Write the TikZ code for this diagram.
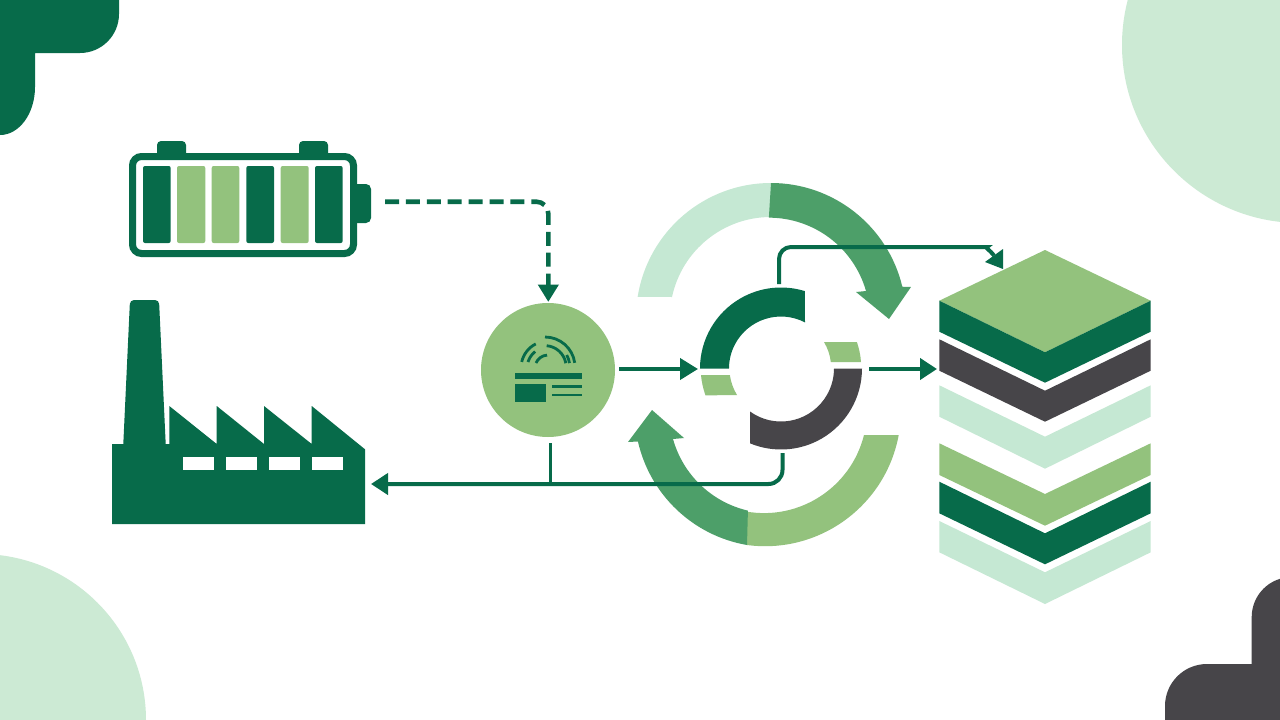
\documentclass[tikz,border=0pt]{standalone}
\usetikzlibrary{arrows.meta}
\definecolor{deepgreen}{HTML}{076B4A}
\definecolor{leaf}{HTML}{93C27D}
\definecolor{mint}{HTML}{C5E8D3}
\definecolor{softmint}{HTML}{CCEAD4}
\definecolor{flowgreen}{HTML}{4D9F69}
\definecolor{charcoal}{HTML}{474549}
\tikzset{
  link/.style={draw=deepgreen,line width=4pt},
  cell/.style={rounded corners=2pt},
  iconstroke/.style={draw=deepgreen,line width=2.8pt},
  hubdisc/.style={circle,fill=leaf,minimum size=134pt,inner sep=0pt,outer sep=0pt},
  batterycase/.style={draw=deepgreen,line width=7pt,fill=white,rounded corners=9pt,
    minimum width=221pt,minimum height=97pt,inner sep=0pt,outer sep=0pt}
}
\begin{document}
\begin{tikzpicture}[x=1pt,y=-1pt]
\useasboundingbox (0,0) rectangle (1280,720);
\fill[white] (0,0) rectangle (1280,720);

% corner decorations
\fill[softmint] (1300,45) circle[radius=178];
\fill[softmint] (-20,720) circle[radius=166];
\fill[deepgreen] (0,0) -- (119,0) -- (119,14) arc[start angle=0,end angle=90,radius=39]
  -- (35,53) -- (35,87) arc[start angle=0,end angle=90,x radius=35,y radius=48] -- cycle;
\fill[charcoal] (1280,720) -- (1280,578.8) arc[start angle=253,end angle=180,radius=40]
  -- (1251.7,664) -- (1207,664) arc[start angle=270,end angle=180,radius=42] -- (1165,720) -- cycle;

% battery
\fill[deepgreen,rounded corners=4pt] (157,141) rectangle (186,160);
\fill[deepgreen,rounded corners=4pt] (299,141) rectangle (328,160);
\fill[deepgreen,rounded corners=5pt] (350,184) rectangle (371,223);
\node[batterycase] (battery) at (243,205) {};
\fill[deepgreen,cell] (143,166) rectangle (170.7,243);
\fill[leaf,cell] (177,166) rectangle (205.3,243);
\fill[leaf,cell] (211.7,166) rectangle (239.3,243);
\fill[deepgreen,cell] (246.3,166) rectangle (274,243);
\fill[leaf,cell] (280.7,166) rectangle (308.7,243);
\fill[deepgreen,cell] (315,166) rectangle (342.7,243);

% factory silhouette
\fill[deepgreen] (112,524) -- (112,444) -- (123.3,444)
  [rounded corners=4pt] -- (130,300) -- (159,300) [sharp corners] -- (165.7,444)
  -- (169.3,444) -- (169.3,406) -- (216.7,444) -- (216.7,406) -- (264,444)
  -- (264,406) -- (311.7,444) -- (311.7,406) -- (365,449.3) -- (365,524) -- cycle;
\fill[white] (183,456.7) rectangle (213.7,470);
\fill[white] (226.3,456.7) rectangle (256.7,470);
\fill[white] (269.3,456.7) rectangle (300,470);
\fill[white] (312.3,456.7) rectangle (342.7,470);

% large recycling arcs
\fill[mint] (771,183) arc[start angle=270,end angle=189,radius=135]
  -- (672,297) arc[start angle=192,end angle=270,radius=101] -- cycle;
\fill[flowgreen] (771,183) arc[start angle=270,end angle=346.6,radius=135]
  -- (911,287) -- (889,319) -- (856,292) -- (866,291)
  arc[start angle=344.1,end angle=270,radius=101] -- cycle;
\fill[leaf] (747,545) arc[start angle=97.6,end angle=10.6,radius=136]
  -- (864,435) arc[start angle=14,end angle=100,radius=103] -- cycle;
\fill[flowgreen] (747,545) arc[start angle=99.8,end angle=167.2,radius=135.5]
  -- (628,442) -- (652,410) -- (684,438) -- (673,439)
  arc[start angle=164.4,end angle=103,radius=101.5] -- cycle;

% inner ring
\fill[deepgreen] (700,368.5) arc[start angle=180,end angle=287.1,radius=81]
  -- (805,322.4) arc[start angle=297.5,end angle=180,radius=52] -- cycle;
\fill[charcoal] (862,368.5) arc[start angle=0,end angle=112.5,radius=81]
  -- (750,411.5) arc[start angle=125.8,end angle=0,radius=53] -- cycle;
\fill[leaf] (861,362) arc[start angle=-4.3,end angle=-18.9,radius=80.2]
  -- (824,342) arc[start angle=-31,end angle=-6.7,radius=50.2] -- cycle;
\fill[leaf] (701,375) arc[start angle=175,end angle=160,radius=80]
  -- (737,395) arc[start angle=148.5,end angle=172,radius=51.6] -- cycle;

% layered stack
\fill[leaf] (1045,250) -- (1150.7,300.7) -- (1045,352.3) -- (939.3,300.7) -- cycle;
\fill[deepgreen] (939.3,300.7) -- (1045,352.3) -- (1150.7,300.7) -- (1150.7,331.7) -- (1045,382.7) -- (939.3,331.7) -- cycle;
\fill[charcoal] (939.3,339.3) -- (1045,390.7) -- (1150.7,339.3) -- (1150.7,370.7) -- (1045,421.7) -- (939.3,370.7) -- cycle;
\fill[mint] (939.3,385.3) -- (1045,436.7) -- (1150.7,385.3) -- (1150.7,416.7) -- (1045,468.7) -- (939.3,416.7) -- cycle;
\fill[leaf] (939.3,443.3) -- (1045,494) -- (1150.7,443.3) -- (1150.7,475) -- (1045,525.7) -- (939.3,475) -- cycle;
\fill[deepgreen] (939.3,481.7) -- (1045,533.3) -- (1150.7,481.7) -- (1150.7,513.3) -- (1045,564.3) -- (939.3,513.3) -- cycle;
\fill[mint] (939.3,521) -- (1045,572.3) -- (1150.7,521) -- (1150.7,552.3) -- (1045,604) -- (939.3,552.3) -- cycle;

% central processing unit
\node[hubdisc] (hub) at (548,370) {};
\fill[deepgreen] (515,373.3) rectangle (581.7,379.3);
\fill[deepgreen] (515,384) rectangle (546,401.7);
\draw[deepgreen,line width=2.6pt] (552,386.7) -- (581.7,386.7);
\draw[deepgreen,line width=2.6pt] (552,395) -- (581.7,395);
\draw[iconstroke] (545,337) arc[start angle=-90,end angle=-8,radius=30];
\draw[iconstroke] (546.7,345.7) arc[start angle=-85,end angle=-10,radius=21.3];
\draw[iconstroke] (566.7,355) arc[start angle=-29,end angle=-9,radius=24.7];
\draw[iconstroke] (521.7,361.9) arc[start angle=193,end angle=243,radius=27];
\draw[iconstroke] (528,362) arc[start angle=197,end angle=232,radius=21];
\draw[iconstroke] (536,363) arc[start angle=203,end angle=266,radius=13];

% connector end points
\coordinate (batteryOut) at (385,201.7);
\coordinate (hubIn) at (548.3,301.7);
\coordinate (hubOut) at (619,369);
\coordinate (ringIn) at (698,369);
\coordinate (ringOut) at (869,369);
\coordinate (stackIn) at (937,369);
\coordinate (ringTop) at (779,284);
\coordinate (stackTop) at (1003,269);
\coordinate (stackHeadBase) at (994,255.5);
\coordinate (ringFoot) at (782.5,453);
\coordinate (hubFoot) at (550,443);
\coordinate (factoryIn) at (371,484);
\coordinate (returnJoin) at (550,484);

% connectors
\draw[deepgreen,line width=4.6pt,dash pattern=on 14pt off 6.9pt,rounded corners=12pt]
  (batteryOut) -- (548.3,201.7) -- (548.3,285);
\fill[deepgreen] (537.7,284.5) -- (559,284.5) -- (hubIn) -- cycle;
\draw[link,-{Triangle[length=18pt,width=21pt]}] (hubOut) -- (ringIn);
\draw[link,-{Triangle[length=17pt,width=21pt]}] (ringOut) -- (stackIn);
\draw[link,rounded corners=12pt] (ringTop) -- (779,247) -- (975,247)
  [sharp corners] .. controls (984,247) and (990,250) .. (stackHeadBase);
\fill[deepgreen] (1003,249) -- (985,262) -- (stackTop) -- cycle;
\draw[link,rounded corners=14pt,-{Triangle[length=17pt,width=21pt]}]
  (ringFoot) -- (782.5,484) -- (factoryIn);
\draw[link,line width=3pt] (hubFoot) -- (returnJoin);
\end{tikzpicture}
\end{document}
